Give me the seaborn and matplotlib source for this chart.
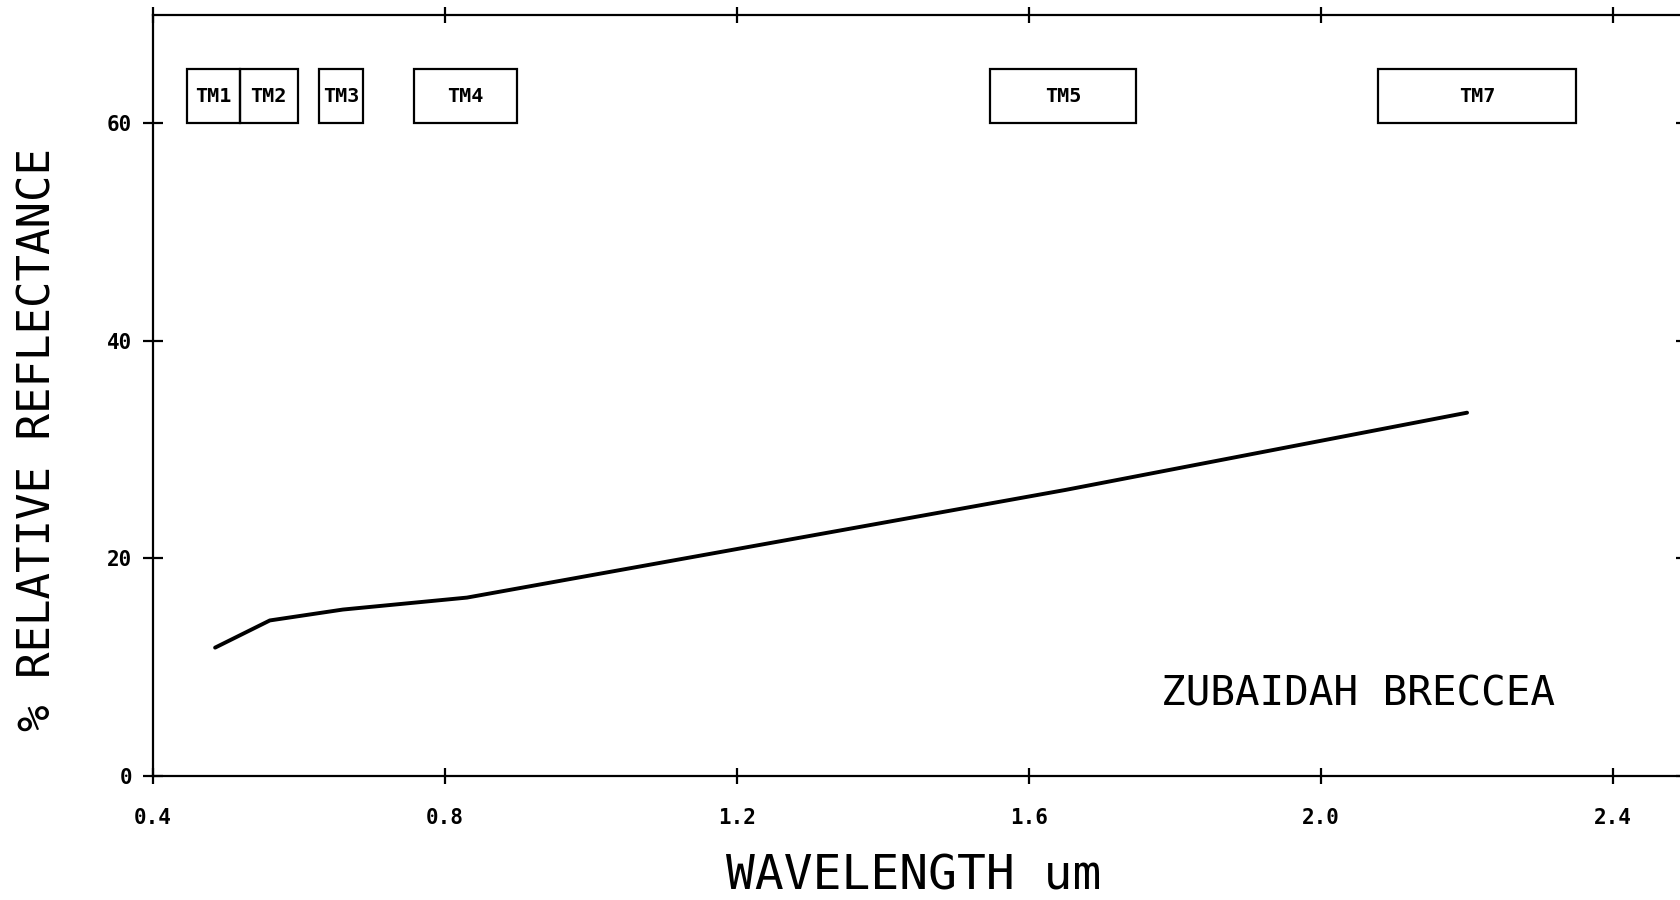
import matplotlib
matplotlib.use('Agg')
import matplotlib.pyplot as plt
from matplotlib.patches import Rectangle
import seaborn as sns
import pandas as pd

# Спектр отражения (точки в центрах каналов TM)
wavelength = [0.485, 0.56, 0.66, 0.83, 1.65, 2.2]
reflectance = [11.8, 14.3, 15.3, 16.4, 26.3, 33.4]

# Каналы Landsat TM: подписи и границы (мкм)
band_names = ['TM1', 'TM2', 'TM3', 'TM4', 'TM5', 'TM7']
band_start = [0.447, 0.519, 0.628, 0.757, 1.546, 2.078]
band_end = [0.519, 0.598, 0.688, 0.898, 1.747, 2.349]
band_low, band_high = 60, 65

x_ticks = [0.4, 0.8, 1.2, 1.6, 2.0, 2.4]
y_ticks = [0, 20, 40, 60]

sns.set_style('white')
plt.rcParams['font.family'] = ['DejaVu Sans Mono', 'DejaVu Sans']
plt.rcParams['text.color'] = 'black'
plt.rcParams['axes.labelcolor'] = 'black'

fig = plt.figure(figsize=(16.8, 9), dpi=100)
ax = fig.add_axes([0.0911, 0.1378, 0.9125, 0.846])

df = pd.DataFrame({'wl': wavelength, 'refl': reflectance})
sns.lineplot(data=df, x='wl', y='refl', color='black', linewidth=2.8, ax=ax)

for name, x0, x1 in zip(band_names, band_start, band_end):
    ax.add_patch(Rectangle((x0, band_low), x1 - x0, band_high - band_low,
                           fill=False, edgecolor='black', linewidth=1.6))
    ax.text((x0 + x1) / 2, (band_low + band_high) / 2, name,
            ha='center', va='center', fontsize=14.5, fontweight='bold',
            color='black')

ax.text(2.051, 7.5, 'ZUBAIDAH BRECCEA', ha='center', va='center',
        fontsize=29.5, color='black')

ax.set_xlim(0.4, 2.5)
ax.set_ylim(0, 70)
ax.set_xticks(x_ticks)
ax.set_xticklabels([f'{v:.1f}' for v in x_ticks], fontweight='bold')
ax.set_yticks(y_ticks)
ax.set_yticklabels([str(v) for v in y_ticks], fontweight='bold')

for side in ['left', 'bottom', 'top', 'right']:
    ax.spines[side].set_visible(True)
    ax.spines[side].set_color('black')
    ax.spines[side].set_linewidth(1.6)

ax.tick_params(axis='x', direction='inout', length=12, width=1.6, pad=17,
               labelsize=15, colors='black', top=True, bottom=True)
ax.tick_params(axis='y', direction='inout', length=14.4, width=1.6, pad=8,
               labelsize=15, colors='black', left=True, right=True)

ax.set_xlabel('WAVELENGTH um', fontsize=34.5, va='center', color='black')
ax.xaxis.set_label_coords(0.496, -0.131)
ax.set_ylabel('% RELATIVE REFLECTANCE', fontsize=31.7, va='center',
              color='black')
ax.yaxis.set_label_coords(-0.0753, 0.4425)
ax.grid(False)

fig.savefig('out.png', dpi=100)
plt.close(fig)
